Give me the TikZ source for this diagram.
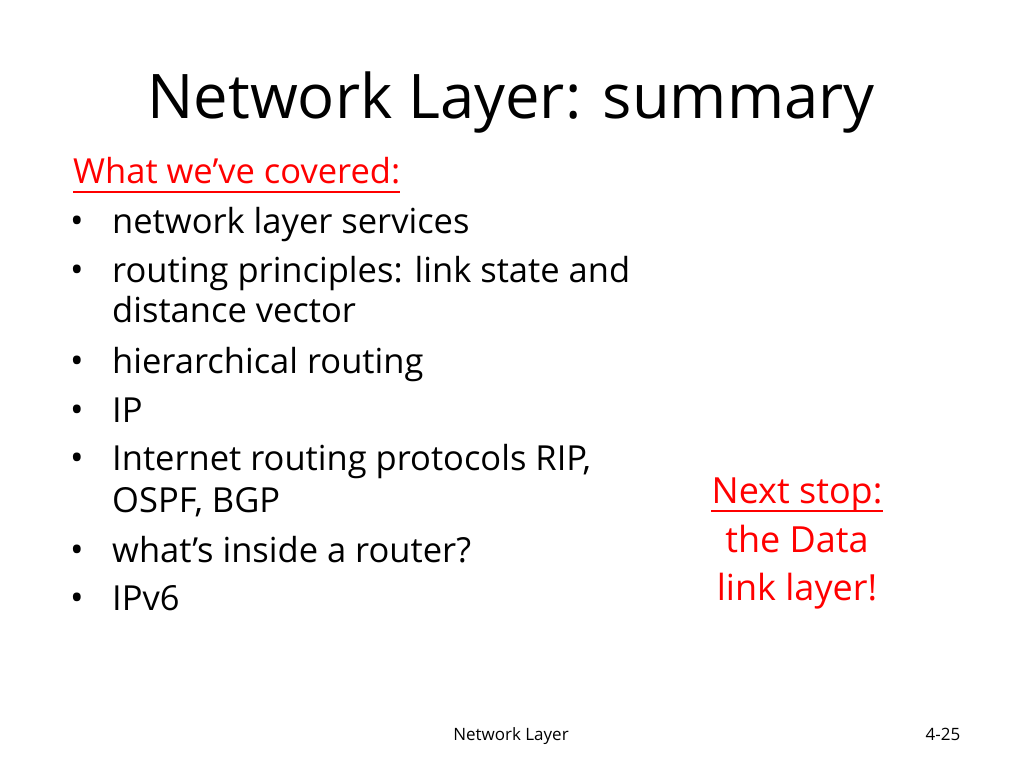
\documentclass[tikz,border=0pt]{standalone}
\usepackage{fontspec}
\setmainfont{Open Sans}
\usepackage{tikz}

\begin{document}
\begin{tikzpicture}[x=1pt, y=-1pt,
    item/.style={anchor=base west, inner sep=0pt, font=\fontsize{34.5}{40}\selectfont},
    dot/.style={anchor=base, inner sep=0pt, font=\fontsize{36}{40}\selectfont},
    red text/.style={anchor=base, inner sep=0pt, text=red, font=\fontsize{36}{42}\selectfont}]
    \useasboundingbox[fill=white] (0, 0) rectangle (1024, 768);
    \node[anchor=base, inner sep=0pt, font=\fontsize{61.5}{70}\selectfont] (title) at (511, 118) {Network Layer: summary};
    \node[item, text=red] (head) at (73, 183) {What we’ve covered:};
    \draw[red, line width=2] ([yshift=-9pt]head.base west) -- ([yshift=-9pt]head.base east);
    \node[dot] (b1) at (77, 233) {•};
    \node[item] (i1) at (112, 233) {network layer services};
    \node[dot] (b2) at (77, 282) {•};
    \node[item] (i2) at (112, 282) {routing principles: link state and};
    \node[item] (i2b) at (112, 322) {distance vector};
    \node[dot] (b3) at (77, 373) {•};
    \node[item] (i3) at (112, 373) {hierarchical routing};
    \node[dot] (b4) at (77, 422) {•};
    \node[item] (i4) at (112, 422) {IP};
    \node[dot] (b5) at (77, 470) {•};
    \node[item] (i5) at (112, 470) {Internet routing protocols RIP,};
    \node[item] (i5b) at (112, 512) {OSPF, BGP};
    \node[dot] (b6) at (77, 562) {•};
    \node[item] (i6) at (112, 562) {what’s inside a router?};
    \node[dot] (b7) at (77, 610) {•};
    \node[item] (i7) at (112, 610) {IPv6};
    % next stop
    \node[red text] (next) at (797, 503) {Next stop:};
    \draw[red, line width=2] ([yshift=-8pt]next.base west) -- ([yshift=-8pt]next.base east);
    \node[red text] (next2) at (797, 552) {the Data};
    \node[red text] (next3) at (797, 600) {link layer!};
    \node[anchor=base, inner sep=0pt, font=\fontsize{17}{20}\selectfont] (foot) at (511, 740) {Network Layer};
    \node[anchor=base, inner sep=0pt, font=\fontsize{17}{20}\selectfont] (page) at (943, 740) {4-25};
\end{tikzpicture}
\end{document}
